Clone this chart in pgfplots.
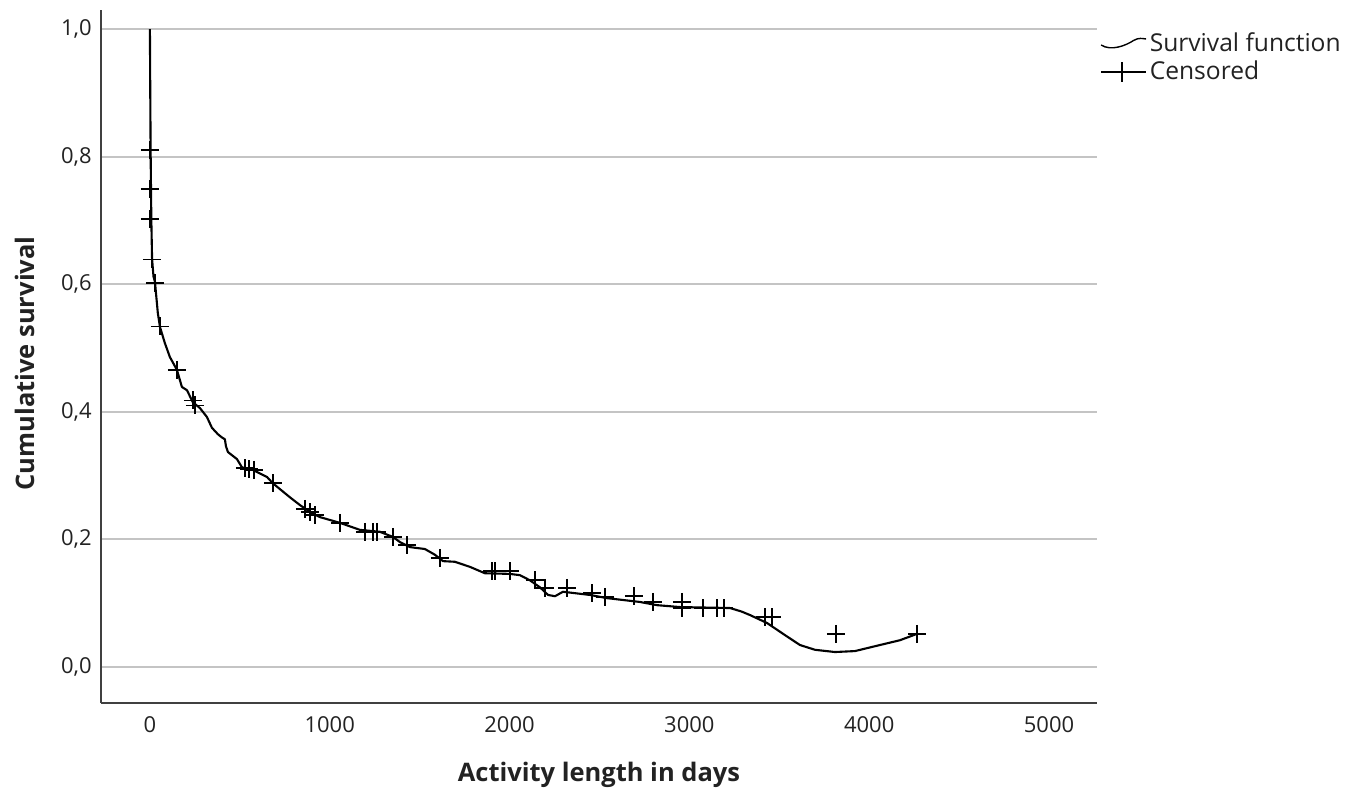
\documentclass[border=0pt]{standalone}
\usepackage{pgfplots}
\pgfplotsset{compat=1.18}
\usepackage{fontspec}
\setmainfont{Open Sans}
\definecolor{gridgray}{HTML}{C4C4C4}
\definecolor{txt}{HTML}{222222}
\begin{document}
\begin{tikzpicture}
\begin{axis}[
    scale only axis,
    width=199.2mm, height=138.6mm,
    xmin=-272, xmax=5267,
    ymin=-0.0564, ymax=1.03,
    axis x line=bottom, axis y line=left,
    axis line style={-, line width=0.9pt, color=black!75},
    xtick={0,1000,2000,3000,4000,5000},
    ytick={0,0.2,0.4,0.6,0.8,1.0},
    major tick length=0pt,
    ymajorgrids=true,
    grid style={gridgray, line width=1.1pt},
    /pgf/number format/assume math mode=true,
    xticklabel style={font=\fontsize{12.5}{14}\selectfont, text=txt, inner sep=0pt, anchor=north, yshift=-2.6mm,
        /pgf/number format/set thousands separator={}},
    yticklabel style={font=\fontsize{12.5}{14}\selectfont, text=txt, inner sep=0pt, anchor=east, xshift=-1.8mm,
        /pgf/number format/.cd, use comma, fixed, fixed zerofill, precision=1},
    xlabel={Activity length in days},
    ylabel={Cumulative survival},
    xlabel style={font=\fontsize{14.5}{16}\selectfont\bfseries, text=txt, at={(axis description cs:0.5,-0.104)}, anchor=center},
    ylabel style={font=\fontsize{14.5}{16}\selectfont\bfseries, text=txt, at={(axis description cs:-0.0763,0.49)}, anchor=center},
    legend style={at={(axis description cs:1.003,0.972)}, anchor=north west, draw=none, fill=none,
        font=\fontsize{14}{16}\selectfont, text=txt, row sep=0.2mm, inner sep=0pt,
        nodes={inner sep=0.6mm}},
    legend cell align=left,
]
\addplot[black, line width=1.2pt, line join=round,
    legend image code/.code={\draw[black, line width=0.8pt] (0mm,-0.3mm) .. controls (2mm,-1.6mm) and (5mm,-0.4mm) .. (6.5mm,0.6mm) .. controls (7.5mm,1.2mm) and (8.3mm,1mm) .. (9mm,0.9mm);}]
coordinates {
(0,1.0)(1,0.95)(2,0.9)(4,0.81)(6,0.75)(8,0.70)(12,0.64)(20,0.612)
(28,0.604)(44,0.555)(56,0.533)(83,0.508)(111,0.486)(150,0.466)
(178,0.439)(206,0.434)(239,0.415)(278,0.406)(317,0.392)(345,0.375)
(378,0.365)(400,0.36)(417,0.357)(423,0.346)(434,0.337)(484,0.326)(512,0.313)
(573,0.309)(651,0.298)(684,0.288)(779,0.266)(834,0.254)(890,0.243)
(946,0.235)(1057,0.226)(1168,0.215)(1279,0.212)(1351,0.204)(1390,0.196)
(1446,0.188)(1529,0.185)(1585,0.176)(1630,0.166)(1696,0.165)(1780,0.157)
(1863,0.147)(2002,0.146)(2058,0.144)(2113,0.136)(2169,0.125)(2214,0.113)
(2253,0.111)(2297,0.118)(2447,0.113)(2542,0.108)(2725,0.102)(2820,0.097)
(2948,0.094)(3226,0.0925)(3290,0.087)(3337,0.0815)(3432,0.069)(3532,0.050)
(3615,0.0345)(3699,0.027)(3810,0.0235)(3921,0.025)(4060,0.0345)(4171,0.042)(4266,0.052)
};
\addlegendentry{Survival function}
\addplot[only marks, mark=+, mark size=1.8mm, mark options={black, line width=1pt},
    legend image code/.code={\draw[black, line width=0.8pt] (0mm,0mm) -- (9mm,0mm); \draw[black, line width=0.8pt] (4.2mm,-2mm) -- (4.2mm,2mm);}]
coordinates {
(0,0.81)(0,0.749)(0,0.702)(11,0.639)(28,0.602)(56,0.534)(150,0.466)
(239,0.418)(250,0.41)(528,0.312)(551,0.310)(578,0.309)(684,0.288)
(862,0.248)(890,0.243)(918,0.238)(1057,0.226)(1196,0.212)(1240,0.212)
(1263,0.212)(1351,0.204)(1429,0.191)(1613,0.171)(1902,0.150)(1919,0.150)
(2002,0.150)(2141,0.136)(2197,0.124)(2319,0.124)(2458,0.116)(2531,0.110)
(2692,0.111)(2798,0.102)(2959,0.102)(2959,0.0925)(3076,0.0925)(3154,0.0925)
(3192,0.0925)(3420,0.078)(3459,0.078)(3815,0.052)(4266,0.052)
};
\addlegendentry{Censored}
\end{axis}
\path ([xshift=-20.2mm,yshift=-17.2mm]current axis.south west) rectangle ([xshift=51.8mm,yshift=2mm]current axis.north east);
\end{tikzpicture}
\end{document}
